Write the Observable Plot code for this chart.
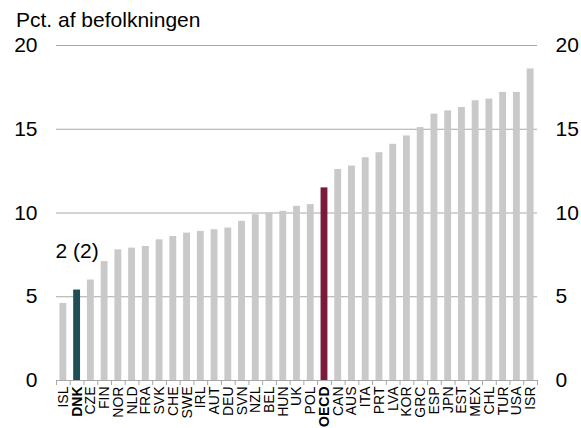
<!DOCTYPE html>
<html><head><meta charset="utf-8">
<script src="https://cdn.jsdelivr.net/npm/d3@7"></script>
<script src="https://cdn.jsdelivr.net/npm/@observablehq/plot@0.6"></script>
<style>
body{margin:0;background:#fff;font-family:"Liberation Sans",Arial,sans-serif;}
#title{height:26px;font-size:21px;line-height:21px;padding:9px 0 0 16px;box-sizing:border-box;color:#000;white-space:nowrap;}
#chart svg{display:block;overflow:visible;}
</style></head><body>
<div id="title">Pct. af befolkningen</div>
<div id="chart"></div>
<script>
const countries = ["ISL","DNK","CZE","FIN","NOR","NLD","FRA","SVK","CHE","SWE","IRL","AUT","DEU","SVN","NZL","BEL","HUN","UK","POL","OECD","CAN","AUS","ITA","PRT","LVA","KOR","GRC","ESP","JPN","EST","MEX","CHL","TUR","USA","ISR"];
const values = [4.6,5.4,6.0,7.1,7.8,7.9,8.0,8.4,8.6,8.8,8.9,9.0,9.1,9.5,9.9,10.0,10.1,10.4,10.5,11.5,12.6,12.8,13.3,13.6,14.1,14.6,15.1,15.9,16.1,16.3,16.7,16.8,17.2,17.2,18.6];
const boldLabels = ["DNK","OECD"];
const yTicks = [0,5,10,15,20];
const annotationLabel = "2 (2)";
const annotationCountry = "DNK";

const data = countries.map((c,i)=>({country:c, value:values[i]}));
const colors = {DNK:"#1f4e56", OECD:"#7a1b3d"};
const grey = "#c9c9c9";
const gridColor = "#a8a8a8";

const W = 581, H = 402, mL = 56, mR = 44, mT = 19, mB = 48;
const step = (W - mL - mR) / countries.length;
const tickLen = 5 * 20 / (H - mT - mB); // 5px expressed in y units

const chart = Plot.plot({
  width: W, height: H,
  marginLeft: mL, marginRight: mR, marginTop: mT, marginBottom: mB,
  style: {fontFamily: '"Liberation Sans", Arial, sans-serif', color: "#000", background: "transparent", overflow: "visible"},
  x: {type: "band", domain: countries, paddingInner: 0.5, paddingOuter: 0.25, round: false, label: null},
  y: {domain: [0, 20], label: null},
  marks: [
    Plot.ruleY(yTicks, {y: d => d, stroke: gridColor, strokeWidth: 1}),
    Plot.ruleX(countries, {x: d => d, dx: -step/2, y1: () => 0, y2: () => -tickLen, stroke: gridColor}),
    Plot.ruleX(countries.slice(-1), {x: d => d, dx: step/2, y1: () => 0, y2: () => -tickLen, stroke: gridColor}),
    Plot.barY(data.filter(d => !colors[d.country]), {x: "country", y: "value", fill: grey}),
    Plot.barY(data.filter(d => d.country === "DNK"), {x: "country", y: "value", fill: colors.DNK}),
    Plot.barY(data.filter(d => d.country === "OECD"), {x: "country", y: "value", fill: colors.OECD}),
    Plot.text(data.filter(d => d.country === annotationCountry), {x: "country", y: "value", text: () => annotationLabel, dy: -39, fontSize: 21, fill: "#000", lineAnchor: "middle"}),
    Plot.axisY(yTicks, {anchor: "left", tickSize: 0, tickPadding: 19, fontSize: 21, fill: "#000", label: null}),
    Plot.axisY(yTicks, {anchor: "right", tickSize: 0, tickPadding: 18, fontSize: 21, fill: "#000", label: null}),
    Plot.axisX(countries.filter(c => !boldLabels.includes(c)), {anchor: "bottom", tickSize: 0, tickPadding: 6, tickRotate: -90, textAnchor: "end", lineAnchor: "middle", fontSize: 14, fill: "#000", label: null}),
    Plot.axisX(boldLabels, {anchor: "bottom", tickSize: 0, tickPadding: 6, tickRotate: -90, textAnchor: "end", lineAnchor: "middle", fontSize: 14, fontWeight: "bold", fill: "#000", label: null})
  ]
});
document.getElementById("chart").appendChild(chart);
</script>
</body></html>
